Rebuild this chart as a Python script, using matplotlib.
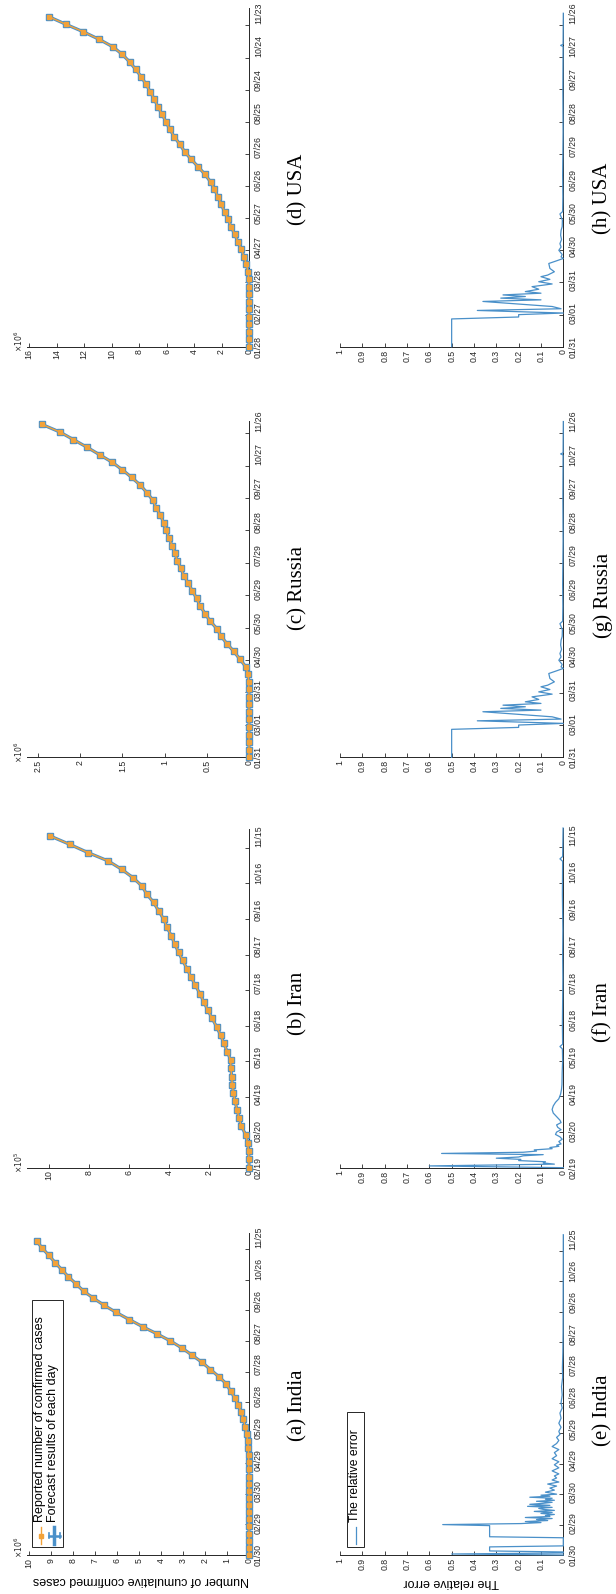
import numpy as np
import matplotlib
matplotlib.use('Agg')
import matplotlib.pyplot as plt
from matplotlib.lines import Line2D
from matplotlib.patches import Rectangle

plt.rcParams['font.family'] = ['Liberation Sans', 'DejaVu Sans']

W, H = 616, 1594

# cumulative confirmed cases, one point every 7 days
india_cases = [0, 0, 0, 0, 0, 0, 0, 0, 0.0005, 0.001, 0.002, 0.005, 0.008, 0.012, 0.02,
               0.03, 0.06, 0.11, 0.17, 0.26, 0.35, 0.49, 0.64, 0.84, 1.03, 1.37, 1.75, 2.13,
               2.58, 3.04, 3.57, 4.18, 4.83, 5.44, 6.03, 6.58, 7.07, 7.52, 7.86, 8.21, 8.51,
               8.81, 9.10, 9.39, 9.65]  # x10^6
iran_cases = [0, 0.001, 0.02, 0.07, 0.17, 0.38, 0.5, 0.6, 0.7, 0.78, 0.83, 0.87, 0.9,
              0.92, 1.09, 1.26, 1.42, 1.62, 1.84, 2.06, 2.26, 2.46, 2.68, 2.90, 3.10, 3.32,
              3.52, 3.72, 3.89, 4.10, 4.27, 4.52, 4.77, 5.11, 5.36, 5.81, 6.37, 7.04, 8.04,
              8.96, 9.93]  # x10^5
russia_cases = [0, 0, 0, 0, 0, 0, 0, 0, 0, 0.001, 0.004,
                0.01, 0.04, 0.11, 0.18, 0.26, 0.33, 0.38, 0.46, 0.52, 0.58, 0.62, 0.67, 0.72,
                0.77, 0.81, 0.85, 0.88, 0.91, 0.95, 0.98, 1.01, 1.05, 1.10, 1.14, 1.21, 1.29,
                1.39, 1.50, 1.62, 1.77, 1.92, 2.08, 2.24, 2.45]  # x10^6
usa_cases = [0, 0, 0, 0, 0, 0, 0, 0, 0.001,
             0.01, 0.07, 0.19, 0.36, 0.56, 0.80, 1.05, 1.29, 1.53, 1.78, 2.02, 2.26, 2.51,
             2.80, 3.21, 3.70, 4.21, 4.67, 5.04, 5.43, 5.77, 6.03, 6.33, 6.62, 6.89, 7.18,
             7.49, 7.83, 8.25, 8.69, 9.22, 9.90, 10.90, 12.04, 13.31, 14.53]  # x10^6

india_dates = ['01/30', '02/29', '03/30', '04/29', '05/29', '06/28', '07/28', '08/27',
               '09/26', '10/26', '11/25']
iran_dates = ['02/19', '03/20', '04/19', '05/19', '06/18', '07/18', '08/17', '09/16',
              '10/16', '11/15']
russia_dates = ['01/31', '03/01', '03/31', '04/30', '05/30', '06/29', '07/29', '08/28',
                '09/27', '10/27', '11/26']
usa_dates = ['01/28', '02/27', '03/28', '04/27', '05/27', '06/26', '07/26', '08/25',
             '09/24', '10/24', '11/23']

# relative error as (day index, value)
india_err = [(0, 0), (1, 0.5), (2, 0), (3, 0), (4, 0.33), (8, 0.33), (9, 0), (17, 0),
             (18, 0.33), (29, 0.33), (30, 0.54), (31, 0.19), (32, 0.10), (33, 0.17),
             (34, 0.07), (35, 0.12), (36, 0.05), (37, 0.17), (38, 0.06), (39, 0.08),
             (40, 0.04), (41, 0.10), (42, 0.05), (43, 0.13), (44, 0.04), (45, 0.09),
             (46, 0.11), (47, 0.05), (48, 0.16), (49, 0.06), (50, 0.15), (51, 0.09),
             (52, 0.05), (53, 0.12), (54, 0.04), (55, 0.08), (56, 0.05), (57, 0.15),
             (58, 0.06), (59, 0.10), (60, 0.03), (62, 0.08), (64, 0.04), (66, 0.06),
             (68, 0.03), (70, 0.07), (72, 0.02), (74, 0.05), (76, 0.03), (78, 0.04),
             (80, 0.02), (83, 0.05), (86, 0.02), (89, 0.04), (92, 0.02), (95, 0.05),
             (98, 0.03), (101, 0.04), (104, 0.02), (107, 0.05), (110, 0.03), (113, 0.02),
             (116, 0.03), (119, 0.015), (122, 0.02), (126, 0.01), (130, 0.02), (135, 0.01),
             (140, 0.015), (145, 0.005), (150, 0.01), (158, 0.005), (166, 0.008),
             (175, 0.003), (185, 0.004), (200, 0.002), (220, 0.001), (316, 0)]
iran_err = [(0, 0), (1.5, 0.6), (3, 0.04), (4, 0.09), (5, 0.08), (6, 0.2), (7, 0.19),
            (8, 0.3), (9, 0.2), (10, 0.18), (11, 0.09), (12, 0.545), (13, 0.18), (14, 0.12),
            (15, 0.13), (16, 0.05), (17, 0.06), (18, 0.02), (19, 0.03), (20, 0.01),
            (22, 0.02), (24, 0.005), (26, 0.015), (28, 0.035), (30, 0.03), (32, 0.01),
            (34, 0.025), (36, 0.03), (38, 0.01), (40, 0.015), (43, 0.03), (46, 0.045),
            (49, 0.05), (52, 0.045), (55, 0.035), (58, 0.02), (62, 0.012), (66, 0.008),
            (70, 0.006), (80, 0.005), (90, 0.003), (100, 0.004), (102, 0.015), (104, 0.003),
            (120, 0.004), (140, 0.003), (160, 0.002), (180, 0.003), (200, 0.002),
            (230, 0.004), (258, 0.003), (260, 0.015), (262, 0.003), (286, 0.001)]
russia_err = [(0, 0.5), (25.9, 0.5), (27.7, 0.2), (29.9, 0.2), (31.4, 0), (33.8, 0.385),
              (35.4, 0.01), (37.5, 0.05), (42.2, 0.36), (43.7, 0.1), (45.3, 0.28),
              (46.8, 0.17), (48.3, 0.27), (49.9, 0.1), (51.4, 0.17), (53.6, 0.11),
              (56, 0.14), (58.5, 0.05), (60.6, 0.11), (62.8, 0.06), (65.3, 0.1),
              (66.8, 0.07), (69.9, 0.04), (73, 0.06), (77.6, 0.065), (80.1, 0.03),
              (82.3, 0), (83.8, 0.01), (86, 0.005), (89.9, 0.02), (93, 0.01), (96.1, 0.015),
              (100, 0.008), (104, 0.012), (108.4, 0.01), (112, 0.005), (118, 0.004),
              (123.8, 0.015), (126, 0.003), (140, 0.002), (160, 0.003), (200, 0.001),
              (240, 0.002), (280, 0.001), (281, 0.012), (282, 0.001), (311, 0)]
usa_err = russia_err  # panel (h) shows the very same curve as (g)

blue = '#4a90c9'
orange = '#f2a23a'
axcol = '#262626'

fig = plt.figure(figsize=(W / 100, H / 100), dpi=100)


def make_ax(x0, x1, y0, y1):
    # pixel box: x0 left, x1 right, y0 top, y1 bottom
    return fig.add_axes([x0 / W, 1 - y1 / H, (x1 - x0) / W, (y1 - y0) / H])


def style(ax, vmax, vticks, dates, ndays):
    ax.set_xlim(vmax, 0)
    ax.set_ylim(0, ndays)
    for s in ['top', 'left']:
        ax.spines[s].set_visible(False)
    for s in ['right', 'bottom']:
        ax.spines[s].set_color(axcol)
        ax.spines[s].set_linewidth(0.7)
    ax.yaxis.tick_right()
    ax.set_xticks(vticks)
    ax.set_xticklabels(['%g' % v for v in vticks], rotation=90)
    ax.set_yticks(np.arange(len(dates)) * 31.15)
    ax.set_yticklabels(dates, rotation=90, va='center')
    ax.set_yticks(np.arange(0, ndays, 30), minor=True)
    ax.tick_params(axis='y', which='major', length=0, pad=3.5, labelsize=6.3, colors=axcol)
    ax.tick_params(axis='y', which='minor', length=3, direction='in', color=axcol, width=0.6)
    ax.tick_params(axis='x', length=3, direction='in', pad=2, labelsize=6.3, colors=axcol,
                   width=0.6)
    ax.patch.set_alpha(0)


def cases_plot(ax, cases):
    idx = np.arange(len(cases)) * 7
    ax.plot(cases, idx, color=blue, lw=2.3, marker='s', ms=4.2, mfc=blue, mec=blue,
            clip_on=False, zorder=3)
    ax.plot(cases, idx, color=orange, lw=1.0, marker='s', ms=3.2, mfc=orange, mec=orange,
            clip_on=False, zorder=4)


def err_plot(ax, pts):
    d = [p[0] for p in pts]
    v = [p[1] for p in pts]
    ax.plot(v, d, color=blue, lw=0.9, clip_on=False, zorder=3)


# top row of the original figure (left column here)
ax_a = make_ax(27, 249, 1233, 1555)
style(ax_a, 10.09, list(range(0, 11)), india_dates, 316)
cases_plot(ax_a, india_cases)

ax_b = make_ax(27, 249, 829, 1167.7)
style(ax_b, 11.1, [0, 2, 4, 6, 8, 10], iran_dates, 286)
cases_plot(ax_b, iran_cases)

ax_c = make_ax(27, 249, 420.7, 757.3)
style(ax_c, 2.63, [0, 0.5, 1, 1.5, 2, 2.5], russia_dates, 311)
cases_plot(ax_c, russia_cases)

ax_d = make_ax(27, 249, 8.3, 346.7)
style(ax_d, 16.15, [0, 2, 4, 6, 8, 10, 12, 14, 16], usa_dates, 316)
cases_plot(ax_d, usa_cases)

# bottom row (right column here)
eticks = [round(0.1 * i, 1) for i in range(11)]
ax_e = make_ax(340, 563.3, 1234.7, 1555)
style(ax_e, 1.0, eticks, india_dates, 316)
err_plot(ax_e, india_err)

ax_f = make_ax(340, 563.3, 828, 1167.7)
style(ax_f, 1.0, eticks, iran_dates, 286)
err_plot(ax_f, iran_err)

ax_g = make_ax(340, 563.3, 421, 757.3)
style(ax_g, 1.0, eticks, russia_dates, 311)
err_plot(ax_g, russia_err)

ax_h = make_ax(340, 563.3, 12.7, 346.7)
style(ax_h, 1.0, eticks, russia_dates, 311)
err_plot(ax_h, usa_err)


def ftext(x, y, s, **kw):
    fig.text(x / W, 1 - y / H, s, **kw)


# exponent labels
for y, s in [(1547, r'$\times10^6$'), (1162, r'$\times10^5$'), (752, r'$\times10^6$'),
             (341, r'$\times10^6$')]:
    ftext(19, y, s, rotation=90, fontsize=5.5, color=axcol, ha='center', va='center')

# captions
caps = [(298, 1405, '(a) India'), (298, 1003, '(b) Iran'), (298, 588, '(c) Russia'),
        (298, 189, '(d) USA'), (603, 1410, '(e) India'), (603, 1012, '(f) Iran'),
        (603, 595, '(g) Russia'), (603, 198, '(h) USA')]
for x, y, s in caps:
    ftext(x, y, s, rotation=90, fontsize=15, family='Liberation Serif', ha='center',
          va='center')

# axis titles
ftext(141, 1580, 'Number of cumulative confirmed cases', rotation=180, fontsize=9,
      color='black', ha='center', va='center')
ftext(451, 1582, 'The relative error', rotation=180, fontsize=9, color='black',
      ha='center', va='center')


# legends (drawn by hand because the page is turned)
def fline(xs, ys, **kw):
    fig.add_artist(Line2D([x / W for x in xs], [1 - y / H for y in ys],
                          transform=fig.transFigure, **kw))


def fbox(x0, y0, x1, y1):
    fig.add_artist(Rectangle((x0 / W, 1 - y1 / H), (x1 - x0) / W, (y1 - y0) / H,
                             transform=fig.transFigure, facecolor='white',
                             edgecolor=axcol, lw=0.7, zorder=5))


fbox(31.7, 1300, 63.3, 1547)
fline([40.5, 40.5], [1527, 1544], color=orange, lw=1.0, zorder=6)
fline([40.5], [1535.5], color=orange, marker='s', ms=3.2, zorder=6)
ftext(40.5, 1522, 'Reported number of confirmed cases', rotation=90, fontsize=9,
      ha='center', va='bottom', zorder=6)
fline([53.5, 53.5], [1527, 1544], color=blue, lw=2.5, zorder=6)
fline([48.5, 59.5], [1535.5, 1535.5], color=blue, lw=1.8, zorder=6)
fline([48.5, 48.5], [1533, 1538], color=blue, lw=1.2, zorder=6)
fline([59.5, 59.5], [1533, 1538], color=blue, lw=1.2, zorder=6)
ftext(53.5, 1522, 'Forecast results of each day', rotation=90, fontsize=9,
      ha='center', va='bottom', zorder=6)

fbox(346.7, 1412, 364.3, 1547)
fline([355.5, 355.5], [1527, 1544], color=blue, lw=0.9, zorder=6)
ftext(355.5, 1522, 'The relative error', rotation=90, fontsize=8.7, ha='center',
      va='bottom', zorder=6)

fig.savefig('out.png', dpi=100)
